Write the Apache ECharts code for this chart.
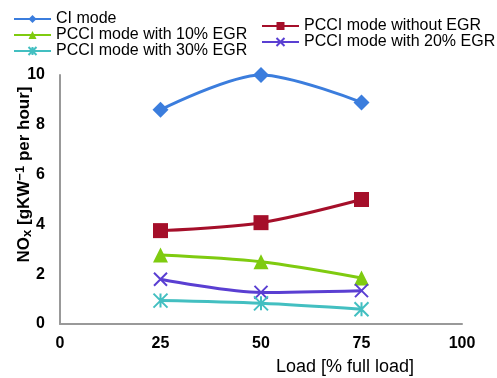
<!DOCTYPE html>
<html>
<head>
<meta charset="utf-8">
<script src="https://cdn.jsdelivr.net/npm/echarts@6/dist/echarts.min.js"></script>
<style>
  html, body { margin: 0; padding: 0; background: #fff; }
  #chart { width: 497px; height: 378px; }
</style>
</head>
<body>
<div id="chart"></div>
<script>
// Engine load points (% of full load)
const loads = [25, 50, 75];

// NOx emissions per operating mode
const ciMode = [8.6, 10.0, 8.9];
const pcciNoEgr = [3.75, 4.07, 5.0];
const pcci10Egr = [2.77, 2.5, 1.85];
const pcci20Egr = [1.8, 1.27, 1.34];
const pcci30Egr = [0.94, 0.83, 0.59];

const xTicks = { min: 0, max: 100, interval: 25 };
const yTicks = { min: 0, max: 10, interval: 2 };

const font = 'Liberation Sans, Arial, sans-serif';

const crossPath = 'path://M0,0L10,10M10,0L0,10';
const starPath = 'path://M5,0L5,10M0,0L10,10M10,0L0,10';

function pairs(vals) {
  return loads.map((x, i) => [x, vals[i]]);
}

function filledSeries(name, vals, color, symbol, size) {
  return {
    name, type: 'line', data: pairs(vals), smooth: 0.3, clip: false,
    symbol, symbolSize: size,
    lineStyle: { color, width: 3 },
    itemStyle: { color },
    z: 3
  };
}

function strokedSeries(name, vals, color, symbol, size) {
  return {
    name, type: 'line', data: pairs(vals), smooth: 0.3, clip: false,
    symbol, symbolSize: size,
    lineStyle: { color, width: 3 },
    itemStyle: { color: color, borderColor: color, borderWidth: 2 },
    z: 3
  };
}

const chart = echarts.init(document.getElementById('chart'));

const legendText = { fontFamily: font, fontSize: 16, color: '#000', lineHeight: 15 };
const nameBold = { fontFamily: font, fontWeight: 'bold', color: '#000' };

chart.setOption({
  animation: false,
  backgroundColor: '#fff',
  legend: [
    {
      orient: 'vertical', left: 8, top: 6, itemGap: 0,
      itemWidth: 37, itemHeight: 10,
      textStyle: legendText,
      data: ['CI mode', 'PCCI mode with 10% EGR', 'PCCI mode with 30% EGR']
    },
    {
      orient: 'vertical', left: 256, top: 13, itemGap: 0,
      itemWidth: 37, itemHeight: 10,
      textStyle: legendText,
      data: ['PCCI mode without EGR', 'PCCI mode with 20% EGR']
    }
  ],
  grid: { left: 60, right: 35, top: 75, bottom: 54, containLabel: false, outerBoundsMode: 'none' },
  xAxis: {
    type: 'value', min: xTicks.min, max: xTicks.max, interval: xTicks.interval,
    name: 'Load [% full load]',
    nameLocation: 'middle', nameGap: 34, nameMoveOverlap: false,
    nameTextStyle: { fontFamily: font, fontSize: 18, color: '#000', padding: [0, 0, 0, 168] },
    axisLine: { show: true, lineStyle: { color: '#999', width: 2 } },
    axisTick: { show: false },
    splitLine: { show: false },
    axisLabel: { fontFamily: font, fontSize: 16, fontWeight: 'bold', color: '#000', margin: 12 }
  },
  yAxis: {
    type: 'value', min: yTicks.min, max: yTicks.max, interval: yTicks.interval,
    name: '{a|NO}{sub|x}{a| [gKW}{sup|−1}{a| per hour]}',
    nameLocation: 'middle', nameRotate: 90, nameGap: 26, nameMoveOverlap: false,
    nameTextStyle: {
      ...nameBold, fontSize: 17, padding: [0, 0, 0, 50],
      rich: {
        a: { ...nameBold, fontSize: 17, lineHeight: 20, verticalAlign: 'middle' },
        sub: { ...nameBold, fontSize: 13, lineHeight: 20, verticalAlign: 'bottom' },
        sup: { ...nameBold, fontSize: 13, lineHeight: 20, verticalAlign: 'top' }
      }
    },
    axisLine: { show: true, lineStyle: { color: '#999', width: 2 } },
    axisTick: { show: false },
    splitLine: { show: false },
    axisLabel: { fontFamily: font, fontSize: 16, fontWeight: 'bold', color: '#000', margin: 15 }
  },
  series: [
    filledSeries('CI mode', ciMode, '#3b7ddd', 'diamond', 16),
    filledSeries('PCCI mode without EGR', pcciNoEgr, '#a50f2a', 'rect', 15),
    filledSeries('PCCI mode with 10% EGR', pcci10Egr, '#7fcb10', 'triangle', 15),
    strokedSeries('PCCI mode with 20% EGR', pcci20Egr, '#5a3fd2', crossPath, 13),
    strokedSeries('PCCI mode with 30% EGR', pcci30Egr, '#43bfc1', starPath, 14)
  ]
});
</script>
</body>
</html>
